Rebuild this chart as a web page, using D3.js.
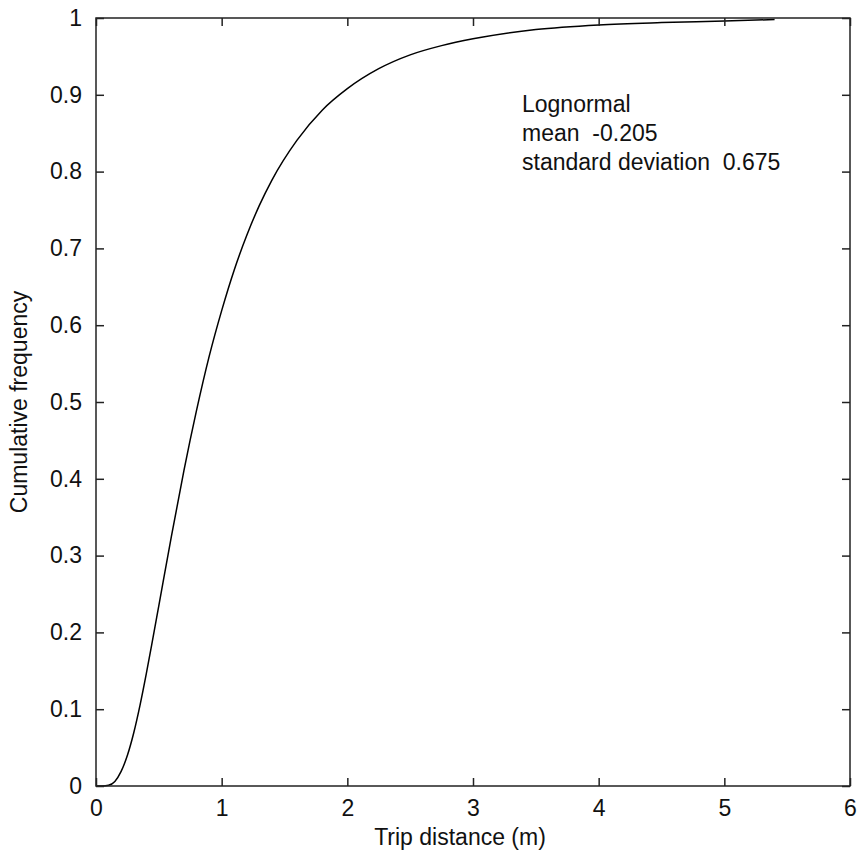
<!DOCTYPE html>
<html>
<head>
<meta charset="utf-8">
<script src="https://cdn.jsdelivr.net/npm/d3@7"></script>
<style>
  html, body { margin: 0; padding: 0; background: #fff; }
  text { font-family: "Liberation Sans", Arial, sans-serif; fill: #111; white-space: pre; }
</style>
</head>
<body>
<svg id="chart" width="860" height="856"></svg>
<script>
// Values (trip distance in m, cumulative frequency)
const tripDistance = [0, 0.05, 0.1, 0.15, 0.2, 0.25, 0.3, 0.35, 0.4, 0.45, 0.5, 0.6, 0.7, 0.8, 0.9, 1.0, 1.1, 1.2, 1.3, 1.4, 1.6, 1.8, 2.0, 2.25, 2.5, 2.75, 3.0, 3.5, 4.0, 4.5, 5.0, 5.4];
const cumulativeFreq = [0, 0, 0.001, 0.006, 0.019, 0.040, 0.069, 0.105, 0.146, 0.190, 0.235, 0.325, 0.411, 0.489, 0.559, 0.619, 0.672, 0.717, 0.756, 0.789, 0.841, 0.880, 0.908, 0.934, 0.952, 0.964, 0.973, 0.985, 0.991, 0.994, 0.996, 0.998];
const xTicks = [0, 1, 2, 3, 4, 5, 6];
const yTicks = [0, 0.1, 0.2, 0.3, 0.4, 0.5, 0.6, 0.7, 0.8, 0.9, 1];
const xTitle = "Trip distance (m)";
const yTitle = "Cumulative frequency";
const annotation = ["Lognormal", "mean  -0.205", "standard deviation  0.675"];

const svg = d3.select("#chart");
const L = 96, R = 850, T = 18, B = 786;
const x = d3.scaleLinear().domain([0, 6]).range([L, R]);
const y = d3.scaleLinear().domain([0, 1]).range([B, T]);
const fs = 23, tick = 8;

const g = svg.append("g");

// curve
const line = d3.line().x((d, i) => x(tripDistance[i])).y(d => y(d)).curve(d3.curveMonotoneX);
g.append("path").datum(cumulativeFreq).attr("d", line)
  .attr("fill", "none").attr("stroke", "#000").attr("stroke-width", 1.5);

// box
g.append("rect").attr("x", L).attr("y", T).attr("width", R - L).attr("height", B - T)
  .attr("fill", "none").attr("stroke", "#222").attr("stroke-width", 1.5);

// axes with inside ticks
const fmt = d => d3.format("")(+d.toFixed(1));
const ax = g.append("g").attr("transform", `translate(0,${B})`)
  .call(d3.axisBottom(x).tickValues(xTicks).tickSizeInner(-tick).tickSizeOuter(0).tickPadding(14).tickFormat(fmt));
const axTop = g.append("g").attr("transform", `translate(0,${T})`)
  .call(d3.axisTop(x).tickValues(xTicks).tickSizeInner(-tick).tickSizeOuter(0).tickFormat(""));
const ay = g.append("g").attr("transform", `translate(${L},0)`)
  .call(d3.axisLeft(y).tickValues(yTicks).tickSizeInner(-tick).tickSizeOuter(0).tickPadding(14).tickFormat(fmt));
const ayR = g.append("g").attr("transform", `translate(${R},0)`)
  .call(d3.axisRight(y).tickValues(yTicks).tickSizeInner(-tick).tickSizeOuter(0).tickFormat(""));
[ax, axTop, ay, ayR].forEach(a => {
  a.select(".domain").remove();
  a.selectAll(".tick line").attr("stroke", "#222").attr("stroke-width", 1.5);
  a.selectAll(".tick text").attr("font-size", fs).attr("font-family", "Liberation Sans, Arial, sans-serif").attr("fill", "#111");
});

// titles
g.append("text").attr("x", 460).attr("y", 845).attr("text-anchor", "middle")
  .attr("font-size", fs).text(xTitle);
g.append("text").attr("transform", `translate(27,${(T + B) / 2}) rotate(-90)`)
  .attr("text-anchor", "middle").attr("font-size", fs).text(yTitle);

// annotation
annotation.forEach((t, i) => {
  g.append("text").attr("x", 522).attr("y", 112 + i * 29).attr("font-size", fs)
    .attr("xml:space", "preserve").text(t);
});
</script>
</body>
</html>
